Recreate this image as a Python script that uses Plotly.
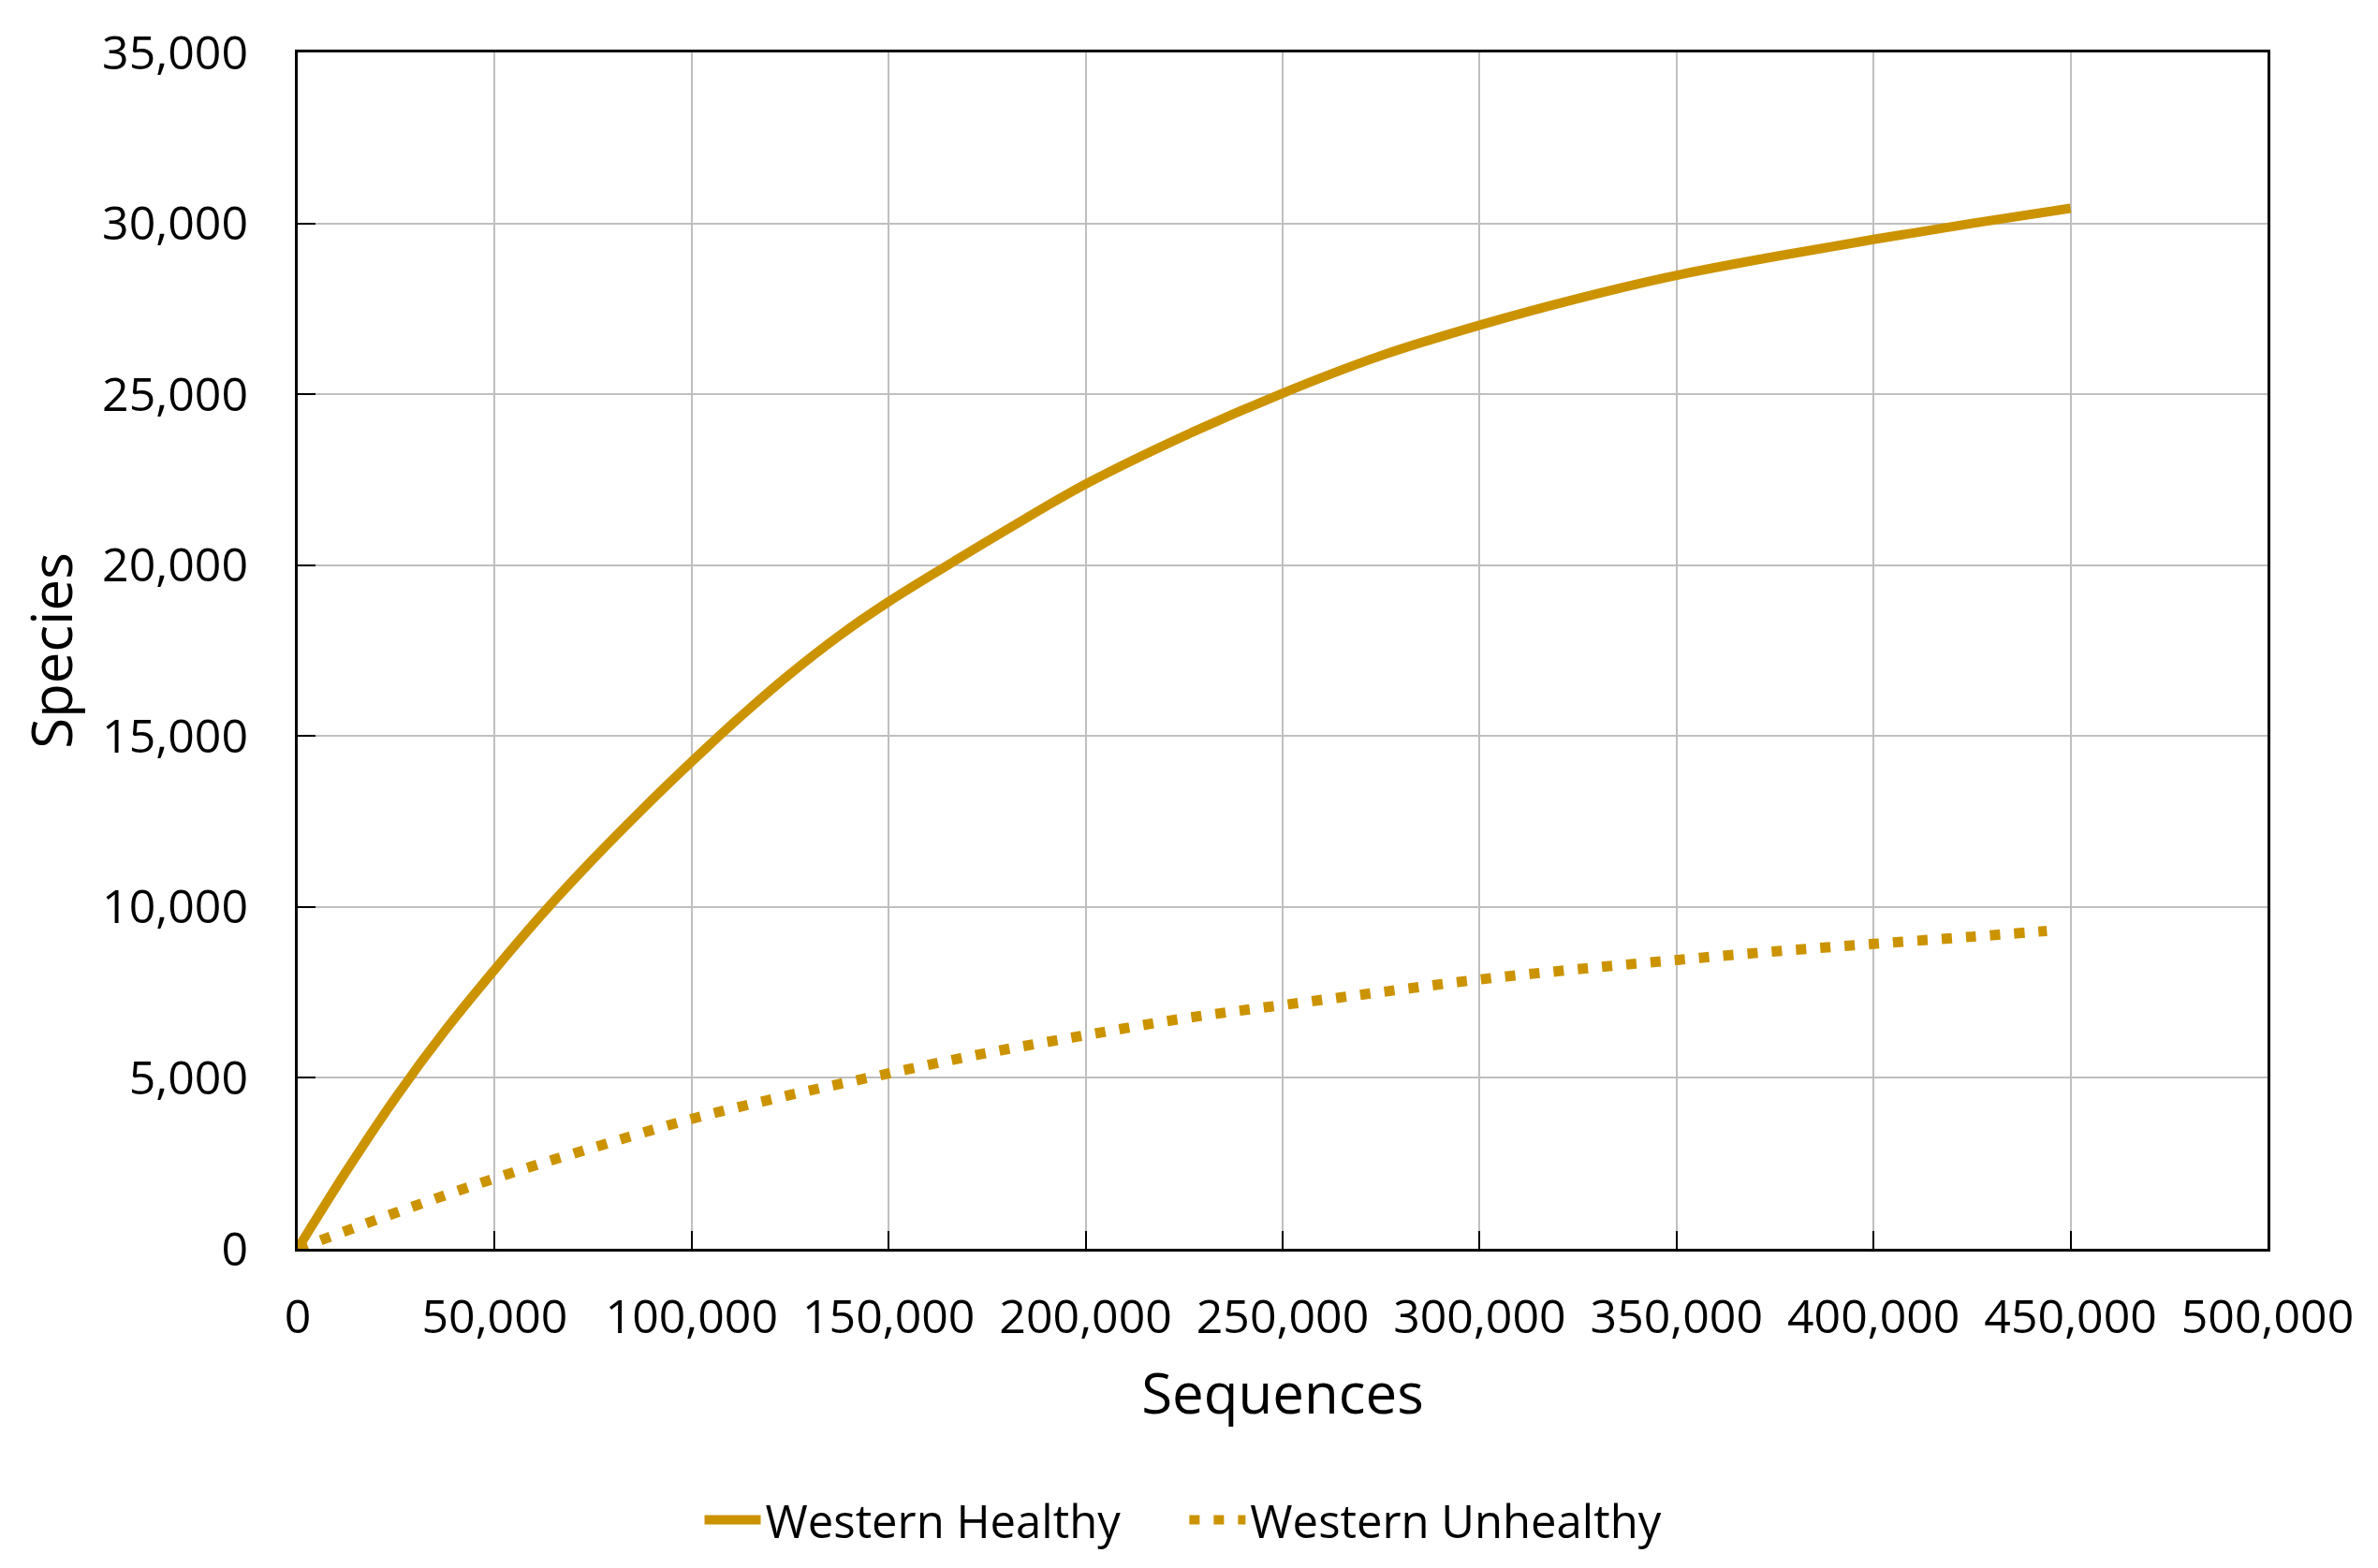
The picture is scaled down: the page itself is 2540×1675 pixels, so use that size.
"""Species accumulation curves: Western healthy vs. unhealthy samples."""
import plotly.graph_objects as go

# values
healthy_x = [0, 12500, 25000, 37500, 50000, 62500, 75000, 87500, 100000,
             112500, 125000, 137500, 150000, 165000, 180000, 200000, 225000,
             250000, 275000, 300000, 325000, 350000, 375000, 400000, 425000,
             450000]
healthy_y = [0, 2300, 4450, 6400, 8170, 9850, 11400, 12860, 14250,
             15580, 16820, 17940, 18930, 20000, 21040, 22370, 23780,
             25030, 26130, 27020, 27800, 28480, 29030, 29530, 30000,
             30440]

unhealthy_x = [0, 25000, 50000, 75000, 100000, 125000, 150000, 175000,
               200000, 225000, 250000, 275000, 300000, 325000, 350000,
               375000, 400000, 425000, 444000]
unhealthy_y = [0, 1060, 2060, 2960, 3800, 4500, 5130, 5730,
               6250, 6740, 7130, 7510, 7880, 8180, 8450,
               8700, 8920, 9130, 9300]

x_ticks = list(range(0, 500001, 50000))
y_ticks = list(range(0, 35001, 5000))

GOLD = "#CC9300"
FONT = "Open Sans, Liberation Sans, sans-serif"
NBSP = "\u00a0"

fig = go.Figure()
fig.add_trace(go.Scatter(
    x=healthy_x, y=healthy_y, mode="lines",
    name="Western Healthy" + NBSP * 5,
    line=dict(color=GOLD, width=10, shape="spline", smoothing=1.0),
))
fig.add_trace(go.Scatter(
    x=unhealthy_x, y=unhealthy_y, mode="lines", name="Western Unhealthy",
    line=dict(color=GOLD, width=11, shape="spline", smoothing=1.0,
              dash="11px,15px"),
))

AXIS = dict(
    showline=True, linecolor="#000000", linewidth=3, mirror=True,
    showgrid=True, gridcolor="#BFBFBF", gridwidth=2,
    ticks="inside", ticklen=19, tickwidth=2, tickcolor="#000000",
    tickfont=dict(family=FONT, size=50, color="#000000"),
    tickformat=",d", zeroline=False,
)

# page body adds an 8px offset, margins compensate for it
fig.update_layout(
    width=2540, height=1675,
    margin=dict(l=310, r=126, t=44, b=349),
    paper_bgcolor="#ffffff", plot_bgcolor="#ffffff",
    font=dict(family=FONT, color="#000000"),
    xaxis=dict(**AXIS, range=[0, 500000], tickvals=x_ticks,
               ticklabelstandoff=27,
               title=dict(text="Sequences", font=dict(family=FONT, size=60),
                          standoff=30)),
    yaxis=dict(**AXIS, range=[0, 35000], tickvals=y_ticks,
               ticklabelstandoff=40,
               title=dict(text="Species", font=dict(family=FONT, size=60),
                          standoff=13)),
    legend=dict(
        orientation="h", xref="container", yref="container",
        x=0.4945, xanchor="center", y=0.0355, yanchor="middle",
        font=dict(family=FONT, size=49, color="#000000"),
        itemwidth=60, bgcolor="rgba(0,0,0,0)",
    ),
    showlegend=True,
)

fig.write_html("out.html")
